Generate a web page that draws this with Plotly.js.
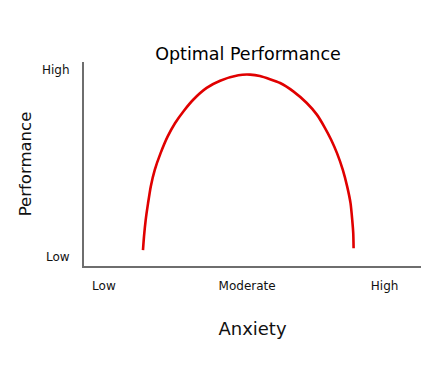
<!DOCTYPE html>
<html>
<head>
<meta charset="utf-8">
<script src="https://cdn.plot.ly/plotly-3.0.1.min.js"></script>
<style>html,body{margin:0;padding:0;background:#fff;}#chart{width:431px;height:378px;}</style>
</head>
<body>
<div id="chart"></div>
<script>
// Anxiety (0-100 scale) vs Performance (0-100 scale)
const anxiety = [17.5, 17.8, 18.3, 19.0, 19.8, 21.0, 22.7, 24.8, 27.0, 29.6, 32.4, 36.4, 40.4, 45.8, 49.3, 52.2, 58.2, 62.1, 66.1, 69.1, 71.4, 73.3, 75.1, 76.8, 78.1, 79.1, 79.6, 79.9, 80.0];
const performance = [7.8, 14.4, 22.5, 30.7, 38.9, 47.1, 55.2, 63.4, 70.0, 76.0, 81.5, 87.3, 90.8, 93.5, 93.8, 93.1, 89.7, 85.6, 79.9, 74.2, 68.0, 62.0, 55.2, 47.1, 38.9, 30.7, 22.5, 16.0, 8.7];
const xTickVals = [5.9, 48.4, 89.2];
const xTickText = ["Low", "Moderate", "High"];
const yTickVals = [4.4, 96];
const yTickText = ["Low", "High"];

const FONT = "DejaVu Sans, sans-serif";

const trace = {
  x: anxiety,
  y: performance,
  type: "scatter",
  mode: "lines",
  line: {color: "#e00000", width: 2.6, shape: "spline", smoothing: 0.6},
  hoverinfo: "skip"
};

const layout = {
  width: 431,
  height: 378,
  margin: {l: 84, r: 10, t: 62, b: 112},
  paper_bgcolor: "#ffffff",
  plot_bgcolor: "#ffffff",
  showlegend: false,
  font: {family: FONT, color: "#111111"},
  title: {
    text: "Optimal Performance",
    font: {family: FONT, size: 17.5, color: "#000000"},
    x: 248 / 431, xanchor: "center", xref: "container",
    y: 1 - 54 / 378, yanchor: "middle", yref: "container"
  },
  xaxis: {
    range: [0, 100],
    showgrid: false, zeroline: false,
    showline: true, linecolor: "#6e6e6e", linewidth: 2,
    ticks: "", tickvals: xTickVals, ticktext: xTickText,
    tickfont: {family: FONT, size: 12, color: "#111111"},
    ticklabelstandoff: 8,
    title: {text: "Anxiety", font: {family: FONT, size: 18, color: "#111111"}, standoff: 30},
    fixedrange: true
  },
  yaxis: {
    range: [0, 100],
    showgrid: false, zeroline: false,
    showline: true, linecolor: "#6e6e6e", linewidth: 2,
    ticks: "", tickvals: yTickVals, ticktext: yTickText,
    tickfont: {family: FONT, size: 12, color: "#111111"},
    ticklabelstandoff: 10,
    title: {text: "Performance", font: {family: FONT, size: 16.5, color: "#111111"}, standoff: 6},
    fixedrange: true
  }
};

Plotly.newPlot("chart", [trace], layout, {displayModeBar: false, staticPlot: true});
</script>
</body>
</html>
